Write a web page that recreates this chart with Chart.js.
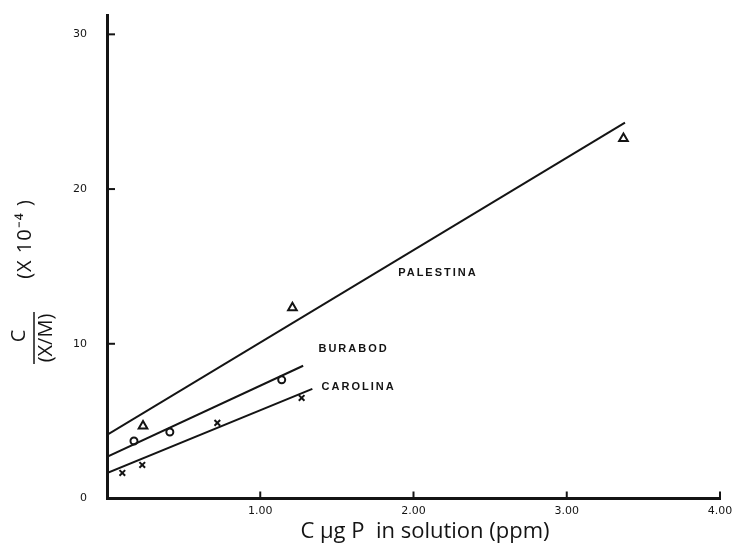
<!DOCTYPE html>
<html>
<head>
<meta charset="utf-8">
<script src="https://cdn.jsdelivr.net/npm/chart.js@4"></script>
<style>
  html, body { margin: 0; padding: 0; background: #fff; }
</style>
</head>
<body>
<canvas id="grafico_isoterma" width="733" height="547"></canvas>
<script>
// Ticks dos eixos
const xTickValues = [1, 2, 3, 4];
const xTickLabels = ['1.00', '2.00', '3.00', '4.00'];
const yTickValues = [0, 10, 20, 30];
const yTickLabels = ['0', '10', '20', '30'];

// Pontos medidos (C em ppm, C/(X/M) x 10^-4)
const palestinaX = [0.235, 1.21, 3.37];
const palestinaY = [4.69, 12.33, 23.27];
const burabodX = [0.176, 0.41, 1.14];
const burabodY = [3.72, 4.30, 7.67];
const carolinaX = [0.10, 0.23, 0.72, 1.27];
const carolinaY = [1.65, 2.17, 4.89, 6.50];

// Retas ajustadas (início e fim)
const palestinaLineX = [0, 3.38];
const palestinaLineY = [4.11, 24.3];
const burabodLineX = [0, 1.28];
const burabodLineY = [2.69, 8.58];
const carolinaLineX = [0, 1.34];
const carolinaLineY = [1.65, 7.09];

// Nomes dos solos (ancorados em unidades dos dados)
const soilNames = ['PALESTINA', 'BURABOD', 'CAROLINA'];
const soilNameX = [1.90, 1.38, 1.40];
const soilNameY = [14.6, 9.67, 7.22];

const pts = (xs, ys) => xs.map((x, i) => ({ x: x, y: ys[i] }));
const INK = '#141414';

// Plugin para ticks internos, nomes e títulos dos eixos
const extras = {
    id: 'extras',
    afterDraw(chart) {
        const ctx = chart.ctx;
        const xs = chart.scales.x;
        const ys = chart.scales.y;
        const area = chart.chartArea;
        ctx.save();
        ctx.strokeStyle = INK;
        ctx.lineWidth = 2;
        yTickValues.filter(v => v > 0).forEach(v => {
            const py = ys.getPixelForValue(v);
            ctx.beginPath();
            ctx.moveTo(area.left, py);
            ctx.lineTo(area.left + 8, py);
            ctx.stroke();
        });
        xTickValues.forEach(v => {
            const px = xs.getPixelForValue(v);
            ctx.beginPath();
            ctx.moveTo(px, area.bottom);
            ctx.lineTo(px, area.bottom - 7);
            ctx.stroke();
        });

        // nomes das séries
        ctx.fillStyle = INK;
        ctx.font = 'bold 11px "Liberation Sans"';
        ctx.textAlign = 'left';
        ctx.textBaseline = 'middle';
        if ('letterSpacing' in ctx) ctx.letterSpacing = '2px';
        soilNames.forEach((n, i) => {
            ctx.fillText(n, xs.getPixelForValue(soilNameX[i]), ys.getPixelForValue(soilNameY[i]));
        });
        if ('letterSpacing' in ctx) ctx.letterSpacing = '0px';

        // título do eixo x
        ctx.font = '22px "Open Sans"';
        ctx.textAlign = 'center';
        ctx.fillText('C \u03bcg P  in solution (ppm)', 425, 532);

        // título do eixo y (fração rotacionada)
        ctx.font = '20px "Open Sans"';
        const rot = (txt, cx, cy) => {
            ctx.save();
            ctx.translate(cx, cy);
            ctx.rotate(-Math.PI / 2);
            ctx.fillText(txt, 0, 0);
            ctx.restore();
        };
        rot('C', 19, 336);
        rot('(X/M)', 46, 338);
        if ('letterSpacing' in ctx) ctx.letterSpacing = '1px';
        rot('(X 10\u207b\u2074 )', 25, 239);
        if ('letterSpacing' in ctx) ctx.letterSpacing = '0px';
        ctx.lineWidth = 1.5;
        ctx.beginPath();
        ctx.moveTo(34, 312);
        ctx.lineTo(34, 364);
        ctx.stroke();
        ctx.restore();
    }
};

function criarGrafico() {
    const ctx = document.getElementById('grafico_isoterma').getContext('2d');
    const lineSet = (xs, ys) => ({
        type: 'line',
        data: pts(xs, ys),
        borderColor: INK,
        borderWidth: 2,
        pointRadius: 0,
        fill: false,
        tension: 0
    });
    const markSet = (xs, ys, style, r) => ({
        type: 'scatter',
        data: pts(xs, ys),
        pointStyle: style,
        pointRadius: r,
        borderColor: INK,
        backgroundColor: 'rgba(0,0,0,0)',
        borderWidth: 2
    });

    new Chart(ctx, {
        type: 'scatter',
        data: {
            datasets: [
                lineSet(palestinaLineX, palestinaLineY),
                lineSet(burabodLineX, burabodLineY),
                lineSet(carolinaLineX, carolinaLineY),
                markSet(palestinaX, palestinaY, 'triangle', 5),
                markSet(burabodX, burabodY, 'circle', 3.5),
                markSet(carolinaX, carolinaY, 'crossRot', 4)
            ]
        },
        plugins: [extras],
        options: {
            responsive: false,
            animation: false,
            devicePixelRatio: 1,
            layout: { padding: { left: 0, right: 13, top: 15, bottom: 0 } },
            plugins: {
                legend: { display: false },
                tooltip: { enabled: false },
                title: { display: false }
            },
            scales: {
                x: {
                    type: 'linear',
                    min: 0,
                    max: 4,
                    grid: { display: false },
                    border: { color: INK, width: 3 },
                    ticks: {
                        color: INK,
                        padding: -2,
                        font: { size: 11, family: 'DejaVu Sans' },
                        maxRotation: 0,
                        callback: (v, i) => xTickLabels[i]
                    },
                    afterBuildTicks: s => { s.ticks = xTickValues.map(v => ({ value: v })); },
                    afterFit: s => { s.height = 48.5; s.paddingLeft = 0; s.paddingRight = 0; }
                },
                y: {
                    type: 'linear',
                    min: 0,
                    max: 31.25,
                    grid: { display: false },
                    border: { color: INK, width: 3 },
                    ticks: {
                        color: INK,
                        padding: 12,
                        font: { size: 11, family: 'DejaVu Sans' },
                        callback: (v, i) => yTickLabels[i]
                    },
                    afterBuildTicks: s => { s.ticks = yTickValues.map(v => ({ value: v })); },
                    afterFit: s => { s.width = 107; s.paddingTop = 0; s.paddingBottom = 0; }
                }
            }
        }
    });
}

criarGrafico();
</script>
</body>
</html>
